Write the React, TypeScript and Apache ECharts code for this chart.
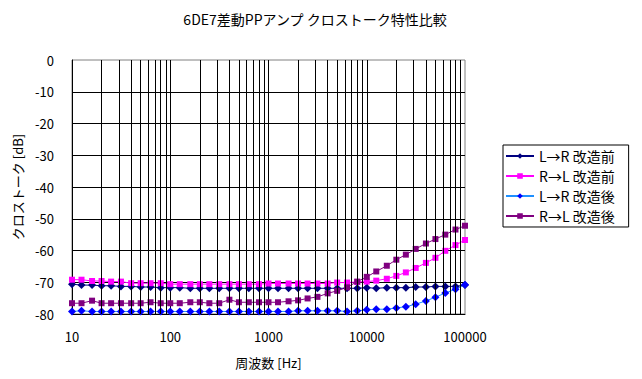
import React, { useEffect, useRef } from 'react';
import * as echarts from 'echarts';

const freqs = [10, 12.5, 16, 20, 25, 31.5, 40, 50, 63, 80, 100, 125, 160, 200, 250, 315, 400, 500, 630, 800, 1000, 1250, 1600, 2000, 2500, 3150, 4000, 5000, 6300, 8000, 10000, 12500, 16000, 20000, 25000, 31500, 40000, 50000, 63000, 80000, 100000];

const lrBefore = [-70.6, -70.9, -70.9, -71.1, -71.1, -71.3, -71.3, -71.5, -71.5, -71.7, -71.7, -71.7, -71.9, -71.9, -71.9, -71.9, -71.9, -71.9, -71.9, -71.9, -71.9, -71.9, -71.9, -71.9, -71.9, -71.9, -71.9, -71.9, -71.9, -71.9, -71.7, -71.9, -71.7, -71.7, -71.7, -71.5, -71.5, -71.3, -71.3, -71.3, -70.9];

const rlBefore = [-69.2, -69.2, -69.6, -69.6, -69.8, -69.8, -70.3, -70.3, -70.3, -70.3, -70.6, -70.6, -70.6, -70.6, -70.6, -70.6, -70.6, -70.6, -70.6, -70.6, -70.4, -70.4, -70.4, -70.4, -70.4, -70.4, -70.4, -70.1, -70.1, -69.9, -69.8, -69.5, -68.9, -68.0, -66.9, -65.5, -63.9, -62.3, -60.1, -58.3, -56.7];

const lrAfter = [-79.2, -79.0, -79.2, -79.2, -79.2, -79.2, -79.2, -79.2, -79.2, -79.2, -79.2, -79.2, -79.2, -79.2, -79.2, -79.2, -79.2, -79.2, -79.2, -79.2, -79.2, -79.2, -79.2, -79.0, -79.0, -79.0, -79.0, -79.0, -79.2, -79.0, -78.7, -78.5, -78.5, -78.1, -77.7, -76.9, -75.9, -74.7, -73.4, -72.2, -70.8];

const rlAfter = [-76.6, -76.6, -75.8, -76.6, -76.6, -76.6, -76.6, -76.6, -76.3, -76.6, -76.6, -76.6, -76.3, -76.3, -76.6, -76.6, -75.5, -76.3, -76.3, -76.3, -76.3, -76.3, -76.0, -75.7, -75.1, -74.6, -73.5, -72.7, -71.6, -69.8, -68.3, -66.6, -64.8, -62.9, -61.3, -59.5, -57.8, -56.4, -55.0, -53.4, -52.2];

const seriesNames = ['L→R 改造前', 'R→L 改造前', 'L→R 改造後', 'R→L 改造後'];
const titleText = '6DE7差動PPアンプ クロストーク特性比較';
const xAxisName = '周波数 [Hz]';
const yAxisName = 'クロストーク [dB]';
const decades = [10, 100, 1000, 10000];
const minorMultipliers = [2, 3, 4, 5, 6, 7, 8, 9];

const FONT = '"Noto Sans CJK JP", "Noto Sans", sans-serif';

export default function App() {
  const ref = useRef<HTMLDivElement>(null);
  useEffect(() => {
    document.body.style.margin = '0';
    const chart = echarts.init(ref.current!, null, { renderer: 'svg' });
    const pair = (ys: number[]) => freqs.map((f, i) => [f, ys[i]]);
    const minorLines: { xAxis: number }[] = [];
    decades.forEach((d) => minorMultipliers.forEach((m) => minorLines.push({ xAxis: d * m })));

    chart.setOption({
      animation: false,
      backgroundColor: '#ffffff',
      textStyle: { fontFamily: FONT },
      title: {
        text: titleText,
        left: 315,
        top: 12,
        textAlign: 'center',
        padding: 0,
        textStyle: { fontFamily: FONT, fontSize: 14, fontWeight: 'normal', color: '#000' },
      },
      legend: {
        orient: 'vertical',
        left: 503,
        top: 145,
        borderColor: '#000',
        borderWidth: 1,
        padding: [4, 14, 4, 2],
        itemWidth: 28,
        itemHeight: 7,
        itemGap: 6,
        data: seriesNames,
        textStyle: { fontFamily: FONT, fontSize: 14, color: '#000' },
      },
      grid: {
        left: 72,
        top: 60,
        right: 177,
        bottom: 65,
        show: true,
        borderColor: '#808080',
        borderWidth: 1,
        backgroundColor: '#ffffff',
        containLabel: false,
      },
      xAxis: {
        type: 'log',
        logBase: 10,
        min: 10,
        max: 100000,
        name: xAxisName,
        nameLocation: 'middle',
        nameGap: 42,
        nameTextStyle: { fontFamily: FONT, fontSize: 13, color: '#000' },
        axisLine: { show: true, onZero: false, lineStyle: { color: '#000', width: 1 } },
        axisTick: { show: false },
        axisLabel: { color: '#000', fontSize: 13, fontFamily: FONT, margin: 16, formatter: (v: number) => String(v) },
        splitLine: { show: true, showMaxLine: false, lineStyle: { color: '#000', width: 1 } },
        minorTick: { show: false },
      },
      yAxis: {
        type: 'value',
        min: -80,
        max: 0,
        interval: 10,
        name: yAxisName,
        nameLocation: 'middle',
        nameGap: 46,
        nameRotate: 90,
        nameTextStyle: { fontFamily: FONT, fontSize: 13, color: '#000' },
        axisLine: { show: true, lineStyle: { color: '#000', width: 1 } },
        axisTick: { show: false },
        axisLabel: { color: '#000', fontSize: 13, fontFamily: FONT, margin: 18, padding: [5, 0, 0, 0] },
        splitLine: { show: true, showMaxLine: false, lineStyle: { color: '#000', width: 1 } },
      },
      series: [
        {
          name: '__minor',
          type: 'line',
          data: [],
          z: 1,
          silent: true,
          markLine: {
            silent: true,
            symbol: ['none', 'none'],
            label: { show: false },
            lineStyle: { color: '#000', type: 'solid', width: 1 },
            emphasis: { disabled: true },
            animation: false,
            data: minorLines,
          },
        },
        {
          name: seriesNames[0],
          type: 'line',
          data: pair(lrBefore),
          symbol: 'diamond',
          symbolSize: 8,
          z: 3,
          lineStyle: { color: '#000080', width: 1 },
          itemStyle: { color: '#000080' },
        },
        {
          name: seriesNames[1],
          type: 'line',
          data: pair(rlBefore),
          symbol: 'rect',
          symbolSize: 6,
          z: 3,
          lineStyle: { color: '#ff00ff', width: 1 },
          itemStyle: { color: '#ff00ff' },
        },
        {
          name: seriesNames[2],
          type: 'line',
          data: pair(lrAfter),
          symbol: 'diamond',
          symbolSize: 8,
          z: 3,
          lineStyle: { color: '#1e90ff', width: 1 },
          itemStyle: { color: '#0000ff' },
        },
        {
          name: seriesNames[3],
          type: 'line',
          data: pair(rlAfter),
          symbol: 'rect',
          symbolSize: 6,
          z: 3,
          lineStyle: { color: '#800080', width: 1 },
          itemStyle: { color: '#800080' },
        },
      ],
    });
    return () => chart.dispose();
  }, []);
  return <div ref={ref} style={{ position: 'absolute', left: 0, top: 0, width: 642, height: 379 }} />;
}
